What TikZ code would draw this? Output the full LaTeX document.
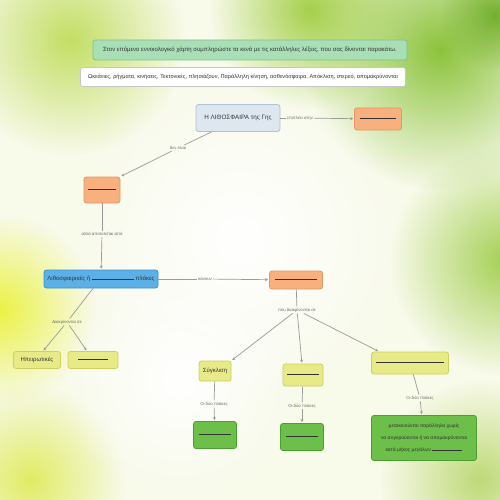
\documentclass[tikz,border=0pt]{standalone}
\usepackage{fontspec}
\setmainfont{Liberation Sans}
\usetikzlibrary{fadings,arrows.meta}
\tikzfading[name=softblob, inner color=transparent!0, outer color=transparent!100]
\definecolor{bgbase}{HTML}{F8FAEA}
\definecolor{mintF}{HTML}{A8DFB6}
\definecolor{mintD}{HTML}{7EC290}
\definecolor{lithoF}{HTML}{DEE7F0}
\definecolor{lithoD}{HTML}{AFC3D6}
\definecolor{orF}{HTML}{F8B07E}
\definecolor{orD}{HTML}{E39863}
\definecolor{blF}{HTML}{5BB0E8}
\definecolor{blD}{HTML}{3D92CF}
\definecolor{yeF}{HTML}{E8EA88}
\definecolor{yeD}{HTML}{CDCF5E}
\definecolor{grF}{HTML}{6CC04A}
\definecolor{grD}{HTML}{4C9E30}
\definecolor{conn}{HTML}{9A9A9A}
\definecolor{lbltext}{HTML}{6A6A6A}
\newcommand\myblank[1]{\rule[1.2pt]{#1}{0.5pt}}
\begin{document}
\begin{tikzpicture}[x=1pt,y=-1pt,
  font=\fontsize{6}{7}\selectfont,
  box/.style={draw, rounded corners=2.5pt, line width=0.8pt, inner sep=1.5pt, align=center, text=black!80},
  orbox/.style={box, fill=orF, draw=orD},
  blbox/.style={box, fill=blF, draw=blD},
  yebox/.style={box, fill=yeF, draw=yeD},
  grbox/.style={box, fill=grF, draw=grD},
  lbl/.style={font=\fontsize{4.3}{5}\selectfont, text=lbltext, inner sep=1.2pt},
  con/.style={draw=conn, line width=0.7pt},
  arr/.style={con, -{Stealth[length=3pt,width=3pt]}, shorten >=1pt},
  blob/.style={path fading=softblob}
]
\useasboundingbox (0,0) rectangle (500,500);
% background
\fill[bgbase] (0,0) rectangle (500,500);
\fill[color={rgb,255:red,140;green,195;blue,60}, blob] (440,50) circle (140);
\fill[color={rgb,255:red,165;green,208;blue,75}, blob] (310,10) circle (100);
\fill[color={rgb,255:red,195;green,222;blue,100}, blob] (70,40) circle (115);
\fill[color={rgb,255:red,235;green,242;blue,70}, blob] (0,310) circle (95);
\fill[color={rgb,255:red,225;green,236;blue,100}, blob] (30,480) circle (95);
\fill[color={rgb,255:red,165;green,208;blue,85}, blob] (505,260) circle (115);
\fill[color={rgb,255:red,190;green,218;blue,120}, blob] (480,480) circle (100);
\fill[color={rgb,255:red,115;green,175;blue,45}, blob] (495,15) circle (55);
\fill[white, blob] (240,240) circle (170);
\fill[white, blob] (180,380) circle (120);

% nodes
\node[box, fill=mintF, draw=mintD, minimum width=314, minimum height=20] (title) at (250,50)
  {Στον επόμενο εννοιολογικό χάρτη συμπληρώστε τα κενά με τις κατάλληλες λέξεις, που σας δίνονται παρακάτω.};
\node[box, fill=white, draw=black!22, minimum width=325, minimum height=19, font=\fontsize{5.6}{7}\selectfont] (words) at (243,77)
  {Ωκεάνιες, ρήγματα, κινήσεις, Τεκτονικές, πλησιάζουν, Παράλληλη κίνηση, ασθενόσφαιρα, Απόκλιση, στερεό, απομακρύνονται};
\node[box, fill=lithoF, draw=lithoD, minimum width=84, minimum height=27, font=\fontsize{6.3}{7}\selectfont] (litho) at (238,118) {Η ΛΙΘΟΣΦΑΙΡΑ της Γης};
\node[orbox, minimum width=47, minimum height=22] (or1) at (378,119) {\myblank{36pt}};
\node[orbox, minimum width=36, minimum height=26] (or2) at (102,190) {\myblank{28pt}};
\node[blbox, minimum width=114, minimum height=18] (bl) at (101,279) {Λιθοσφαιρικές ή \myblank{42pt} πλάκες};
\node[orbox, minimum width=53, minimum height=18] (or3) at (296,280) {\myblank{42pt}};
\node[yebox, minimum width=47, minimum height=17] (y1) at (37,360) {Ηπειρωτικές};
\node[yebox, minimum width=50, minimum height=17] (y2) at (93,360) {\myblank{30pt}};
\node[yebox, minimum width=32, minimum height=20] (y3) at (215,371) {Σύγκλιση};
\node[yebox, minimum width=40, minimum height=22] (y4) at (303,375) {\myblank{32pt}};
\node[yebox, minimum width=77, minimum height=22] (y5) at (410,363) {\myblank{68pt}};
\node[grbox, minimum width=43, minimum height=27] (g1) at (215,435) {\myblank{32pt}};
\node[grbox, minimum width=43, minimum height=27] (g2) at (302,437) {\myblank{32pt}};
\node[grbox, minimum width=105, minimum height=45, font=\fontsize{5}{12}\selectfont] (g3) at (424,438)
  {μετακινούνται παράλληλα χωρίς\\να συγκρούονται ή να απομακρύνονται\\κατά μήκος μεγάλων \myblank{30pt}};

% labels
\node[lbl] (l1) at (300,118) {επιπλέει στην};
\node[lbl] (l2) at (178,148) {δεν είναι};
\node[lbl] (l3) at (102,234) {αλλά αποτελείται από};
\node[lbl] (l4) at (205,279) {κάνουν};
\node[lbl] (l5) at (67,322) {Διακρίνονται σε};
\node[lbl] (l6) at (297,310) {που διακρίνονται σε};
\node[lbl] (l7) at (214,404) {Οι δύο πλάκες};
\node[lbl] (l8) at (302,406) {Οι δύο πλάκες};
\node[lbl] (l9) at (420,398) {Οι δύο πλάκες};
\coordinate (lsw) at ([xshift=16pt]litho.south west);
\coordinate (bls) at ([xshift=-8pt]bl.south);
\coordinate (y1t) at ([xshift=6pt]y1.north);
\coordinate (y2t) at ([xshift=-6pt]y2.north);
\coordinate (y5t) at ([xshift=8pt]y5.north west);

% connectors
\draw[con] (litho) -- (l1);
\draw[arr] (l1) -- (or1);
\draw[con] (lsw) -- (l2);
\draw[arr] (l2) -- (or2.north east);
\draw[con] (or2) -- (l3);
\draw[arr] (l3) -- (bl);
\draw[con] (bl) -- (l4);
\draw[arr] (l4) -- (or3);
\draw[con] (bls) -- (l5);
\draw[arr] (l5) -- (y1t);
\draw[arr] (l5) -- (y2t);
\draw[con] (or3) -- (l6);
\draw[arr] (l6) -- (y3.north east);
\draw[arr] (l6) -- (y4);
\draw[arr] (l6) -- (y5t);
\draw[con] (y3) -- (l7);
\draw[arr] (l7) -- (g1);
\draw[con] (y4) -- (l8);
\draw[arr] (l8) -- (g2);
\draw[con] (y5) -- (l9);
\draw[arr] (l9) -- (g3);
\end{tikzpicture}
\end{document}
